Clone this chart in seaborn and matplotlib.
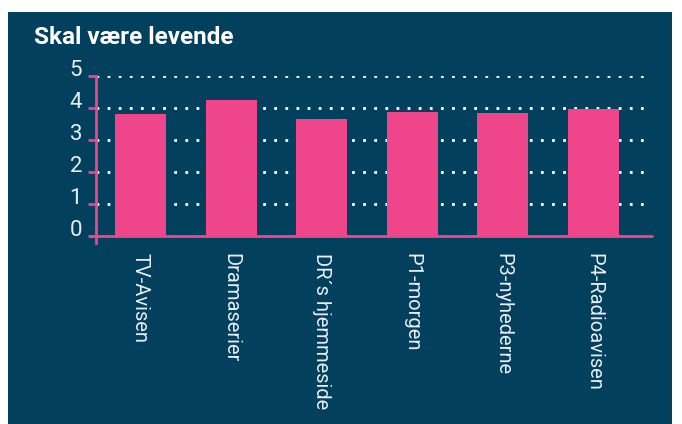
import matplotlib
matplotlib.use("Agg")
import matplotlib.pyplot as plt
import seaborn as sns
import pandas as pd

# data
categories = ["TV-Avisen", "Dramaserier", "DR´s hjemmeside", "P1-morgen", "P3-nyhederne", "P4-Radioavisen"]
values = [3.81, 4.25, 3.66, 3.87, 3.84, 3.97]
y_ticks = [0, 1, 2, 3, 4, 5]
title = "Skal være levende"

bg = "#02405E"
pink = "#EF468B"
txt = "#E8EEF2"

sns.set_theme(style="white")
plt.rcParams["font.family"] = ["Roboto", "DejaVu Sans"]

df = pd.DataFrame({"kategori": categories, "score": values})

fig = plt.figure(figsize=(6.82, 4.24), dpi=100)
fig.patch.set_facecolor("white")
# dark panel behind the chart
panel = plt.Rectangle((8 / 682, 0), 664 / 682, 412 / 424,
                      transform=fig.transFigure, facecolor=bg,
                      edgecolor="none", zorder=-5)
fig.add_artist(panel)

ax = fig.add_axes([96 / 682, 181 / 424, 556 / 682, 167 / 424])
ax.set_zorder(2)
ax.set_facecolor("none")

sns.barplot(data=df, x="kategori", y="score", color=pink, saturation=1,
            width=0.563, linewidth=0, edgecolor="none", ax=ax, zorder=3)

ax.set_xlim(-0.491, 5.646)
ax.set_ylim(-0.22, 5)

# dotted gridlines
for t in y_ticks[1:]:
    ax.axhline(t, color="white", linestyle=(0, (1, 3)), linewidth=2, zorder=1)

# baseline, slightly past the y-axis
ax.axhline(0, xmin=-0.011, xmax=1, color=pink, linewidth=2, clip_on=False, zorder=4)

for s in ["top", "right", "bottom"]:
    ax.spines[s].set_visible(False)
ax.spines["left"].set_color(pink)
ax.spines["left"].set_linewidth(2)

ax.set_yticks(y_ticks)
ax.set_yticklabels([str(t) for t in y_ticks], fontsize=16, color=txt,
                   va="baseline")
ax.tick_params(axis="y", which="both", left=True, length=6, width=2, color=pink, pad=4)
ax.tick_params(axis="x", bottom=False, pad=1)
ax.set_xticks(range(len(categories)))
ax.set_xticklabels(categories, rotation=270, fontsize=14.5, color=txt,
                   ha="center", va="top")
ax.set_xlabel("")
ax.set_ylabel("")

fig.text(34 / 682, 1 - 44 / 424, title, fontsize=17.5, fontweight="bold",
         color="white", ha="left", va="baseline")

fig.savefig("out.png", dpi=100, facecolor=fig.get_facecolor())
